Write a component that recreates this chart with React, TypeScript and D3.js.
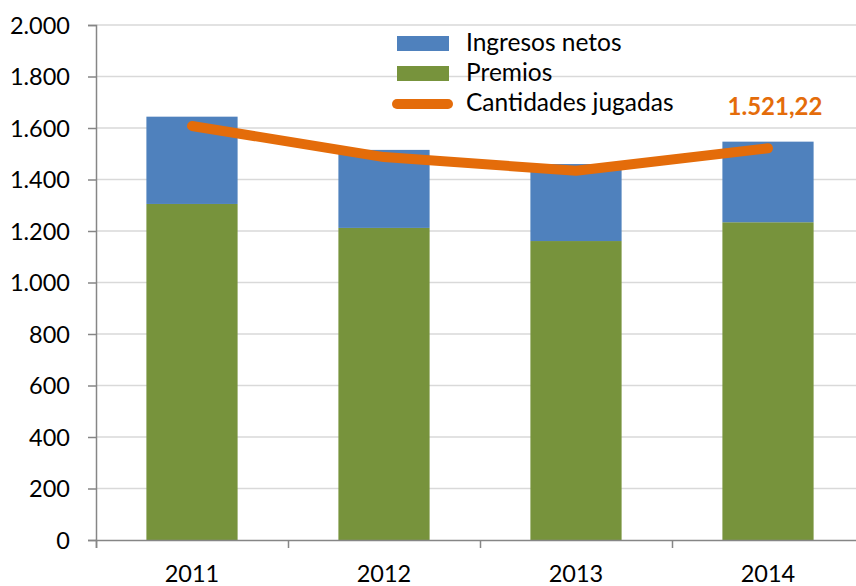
import { useEffect, useRef } from 'react'
import * as d3 from 'd3'

const years = ['2011', '2012', '2013', '2014']
const premios = [1305, 1212, 1161, 1234]
const ingresosNetos = [339, 303, 299, 313]
const cantidadesJugadas = [1608, 1487, 1434, 1521.22]
const yTicks = [0, 200, 400, 600, 800, 1000, 1200, 1400, 1600, 1800, 2000]

const W = 856
const H = 586
const left = 96
const right = 864
const top = 25
const bottom = 540
const font = 'Lato, "Open Sans", sans-serif'
const fmt = (v: number) => v.toLocaleString('de-DE')

export default function App() {
  const svgRef = useRef<SVGSVGElement>(null)

  useEffect(() => {
    const svg = d3.select(svgRef.current)
    svg.selectAll('*').remove()

    const x = d3.scaleBand().domain(years).range([left, right]).paddingInner(0.525).paddingOuter(0.2625)
    const xc = d3.scalePoint().domain(years).range([left, right]).padding(0.5)
    const y = d3.scaleLinear().domain([0, 2000]).range([bottom, top])

    // grid
    svg.append('g')
      .selectAll('line')
      .data(yTicks.slice(1))
      .join('line')
      .attr('x1', left).attr('x2', right)
      .attr('y1', d => y(d)).attr('y2', d => y(d))
      .attr('stroke', '#d9d9d9').attr('stroke-width', 1.5)

    // bars
    const stack = years.map((yr, i) => ({ yr, p: premios[i], n: ingresosNetos[i] }))
    svg.append('g').selectAll('rect')
      .data(stack)
      .join('rect')
      .attr('x', d => x(d.yr)!)
      .attr('width', x.bandwidth())
      .attr('y', d => y(d.p))
      .attr('height', d => y(0) - y(d.p))
      .attr('fill', '#77933c')
    svg.append('g').selectAll('rect')
      .data(stack)
      .join('rect')
      .attr('x', d => x(d.yr)!)
      .attr('width', x.bandwidth())
      .attr('y', d => y(d.p + d.n))
      .attr('height', d => y(d.p) - y(d.p + d.n))
      .attr('fill', '#4f81bd')

    // axes
    const yAxis = svg.append('g').attr('transform', `translate(${left},0)`)
      .call(d3.axisLeft(y).tickValues(yTicks).tickSize(8).tickPadding(18).tickFormat(d => fmt(d as number)))
    const xAxis = svg.append('g').attr('transform', `translate(0,${bottom})`)
      .call(d3.axisBottom(d3.scaleLinear().domain([0, 4]).range([left, right])).tickValues([0, 1, 2, 3, 4]).tickSize(8).tickFormat(() => ''))
    for (const g of [yAxis, xAxis]) {
      g.select('.domain').attr('stroke', '#868686').attr('stroke-width', 1.5)
      g.selectAll('.tick line').attr('stroke', '#868686').attr('stroke-width', 1.5)
    }
    yAxis.selectAll('text').attr('font-family', font).attr('font-size', 23.5).attr('fill', '#000')
      .attr('dy', '0.35em')

    svg.append('g').selectAll('text')
      .data(years)
      .join('text')
      .attr('x', d => xc(d)!)
      .attr('y', 582)
      .attr('text-anchor', 'middle')
      .attr('font-family', font).attr('font-size', 23.5)
      .text(d => d)

    // line
    const line = d3.line<number>().x((_, i) => xc(years[i])!).y(d => y(d))
    svg.append('path')
      .datum(cantidadesJugadas)
      .attr('d', line)
      .attr('fill', 'none')
      .attr('stroke', '#e46c0a')
      .attr('stroke-width', 10)
      .attr('stroke-linecap', 'round')
      .attr('stroke-linejoin', 'round')

    const last = cantidadesJugadas.length - 1
    svg.append('text')
      .attr('x', xc(years[last])! + 7)
      .attr('y', 115)
      .attr('text-anchor', 'middle')
      .attr('font-family', font).attr('font-size', 24).attr('font-weight', 'bold')
      .attr('fill', '#e46c0a')
      .text(fmt(cantidadesJugadas[last]))

    // legend
    const lg = svg.append('g')
    lg.append('rect').attr('x', 397).attr('y', 36).attr('width', 52).attr('height', 15).attr('fill', '#4f81bd')
    lg.append('rect').attr('x', 397).attr('y', 66).attr('width', 52).attr('height', 15).attr('fill', '#77933c')
    lg.append('line').attr('x1', 397).attr('x2', 448).attr('y1', 104).attr('y2', 104)
      .attr('stroke', '#e46c0a').attr('stroke-width', 10).attr('stroke-linecap', 'round')
    const labels = ['Ingresos netos', 'Premios', 'Cantidades jugadas']
    lg.selectAll('text.l')
      .data(labels)
      .join('text')
      .attr('x', 466)
      .attr('y', (_, i) => 51 + i * 30)
      .attr('font-family', font).attr('font-size', 24.5)
      .text(d => d)
  }, [])

  return <svg ref={svgRef} width={W} height={H} style={{ position: 'absolute', left: 0, top: 0 }} />
}
